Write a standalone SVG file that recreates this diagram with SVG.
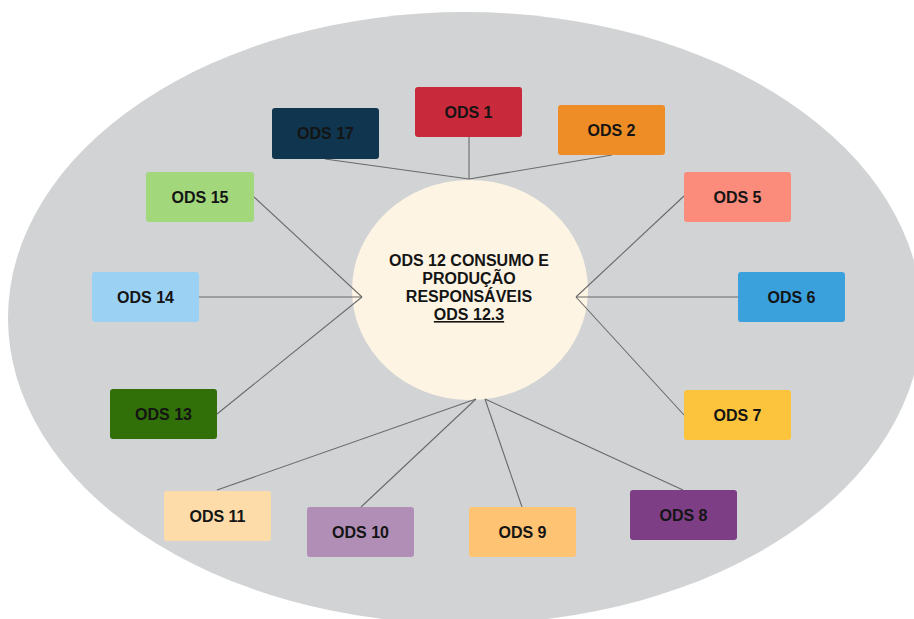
<svg xmlns="http://www.w3.org/2000/svg" width="914" height="619" viewBox="0 0 914 619">
<style>
.bx{stroke:none}
.lb{font-family:"Liberation Sans",Arial,sans-serif;font-weight:bold;font-size:16px;fill:#141414;text-anchor:middle}
.cn line{stroke:#6a6a6a;stroke-width:1.1}
</style>
<rect width="914" height="619" fill="#ffffff"/>
<ellipse id="bg" cx="465" cy="318" rx="457" ry="306" fill="#d1d3d4"/>
<g id="center">
<ellipse cx="470" cy="290" rx="118" ry="110" fill="#fdf4e4"/>
<text class="lb" x="469" y="266">ODS 12 CONSUMO E</text>
<text class="lb" x="469" y="284">PRODUÇÃO</text>
<text class="lb" x="469" y="302">RESPONSÁVEIS</text>
<text class="lb" x="469" y="320" text-decoration="underline">ODS 12.3</text>
</g>
<g class="cn" id="connectors">
<line x1="325" y1="159" x2="469" y2="179"/>
<line x1="469" y1="137" x2="469" y2="179"/>
<line x1="612" y1="155" x2="469" y2="179"/>
<line x1="254" y1="197" x2="362" y2="297"/>
<line x1="199" y1="297" x2="362" y2="297"/>
<line x1="217" y1="414" x2="362" y2="297"/>
<line x1="684" y1="196" x2="576" y2="297"/>
<line x1="738" y1="297" x2="576" y2="297"/>
<line x1="684" y1="415" x2="576" y2="297"/>
<line x1="217" y1="490" x2="476" y2="399"/>
<line x1="361" y1="507" x2="476" y2="399"/>
<line x1="522" y1="507" x2="485" y2="399"/>
<line x1="683" y1="490" x2="485" y2="399"/>
</g>
<g id="ods1"><rect class="bx" x="415" y="87" width="107" height="50" rx="3" fill="#c8293b"/><text class="lb" x="468.5" y="117.5">ODS 1</text></g>
<g id="ods2"><rect class="bx" x="558" y="105" width="107" height="50" rx="3" fill="#ee8d26"/><text class="lb" x="611.5" y="135.5">ODS 2</text></g>
<g id="ods17"><rect class="bx" x="272" y="108" width="107" height="51" rx="3" fill="#10364f"/><text class="lb" x="325.5" y="138.5">ODS 17</text></g>
<g id="ods15"><rect class="bx" x="146" y="172" width="108" height="50" rx="3" fill="#a3d77b"/><text class="lb" x="200" y="202.5">ODS 15</text></g>
<g id="ods14"><rect class="bx" x="92" y="272" width="107" height="50" rx="3" fill="#9bd2f4"/><text class="lb" x="145.5" y="302.5">ODS 14</text></g>
<g id="ods13"><rect class="bx" x="110" y="389" width="107" height="50" rx="3" fill="#316f09"/><text class="lb" x="163.5" y="419.5">ODS 13</text></g>
<g id="ods5"><rect class="bx" x="684" y="172" width="107" height="50" rx="3" fill="#fb8b7b"/><text class="lb" x="737.5" y="202.5">ODS 5</text></g>
<g id="ods6"><rect class="bx" x="738" y="272" width="107" height="50" rx="3" fill="#3aa1dd"/><text class="lb" x="791.5" y="302.5">ODS 6</text></g>
<g id="ods7"><rect class="bx" x="684" y="390" width="107" height="50" rx="3" fill="#fbc43c"/><text class="lb" x="737.5" y="420.5">ODS 7</text></g>
<g id="ods11"><rect class="bx" x="164" y="491" width="107" height="50" rx="3" fill="#fddcaa"/><text class="lb" x="217.5" y="521.5">ODS 11</text></g>
<g id="ods10"><rect class="bx" x="307" y="507" width="107" height="50" rx="3" fill="#b08eb6"/><text class="lb" x="360.5" y="537.5">ODS 10</text></g>
<g id="ods9"><rect class="bx" x="469" y="507" width="107" height="50" rx="3" fill="#fec373"/><text class="lb" x="522.5" y="537.5">ODS 9</text></g>
<g id="ods8"><rect class="bx" x="630" y="490" width="107" height="50" rx="3" fill="#7e3e86"/><text class="lb" x="683.5" y="520.5">ODS 8</text></g>
</svg>
